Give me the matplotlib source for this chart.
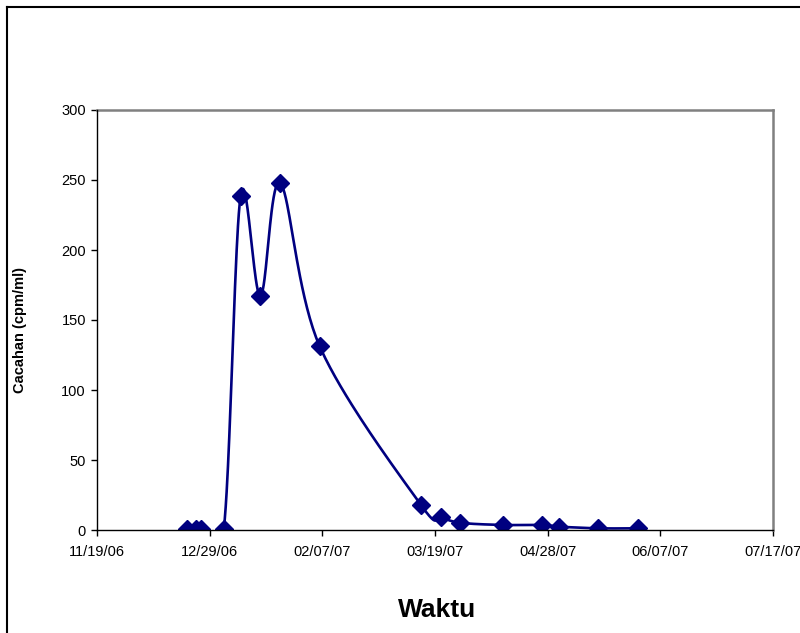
import numpy as np
import matplotlib
matplotlib.use("Agg")
import matplotlib.pyplot as plt
import matplotlib.dates as mdates
from matplotlib.lines import Line2D
from datetime import date, timedelta

plt.rcParams['font.family'] = ['Liberation Sans', 'DejaVu Sans']

# data
tanggal = ["2006-12-21", "2006-12-24", "2006-12-26", "2007-01-03", "2007-01-09",
           "2007-01-16", "2007-01-23", "2007-02-06", "2007-03-14", "2007-03-21",
           "2007-03-28", "2007-04-12", "2007-04-26", "2007-05-02", "2007-05-16",
           "2007-05-30"]
cacahan = [0.5, 0.5, 0.5, 0.5, 238.8, 167.0, 248.0, 131.5, 17.9, 9.5,
           5.2, 3.6, 3.6, 2.4, 1.2, 1.2]

x_awal = date(2006, 11, 19)
x_akhir = date(2007, 7, 17)


def smooth_line(x, y, n=40):
    # excel style smoothed line: bezier through points (catmull-rom tangents)
    x = np.asarray(x, float)
    y = np.asarray(y, float)
    px = np.concatenate([[x[0]], x, [x[-1]]])
    py = np.concatenate([[y[0]], y, [y[-1]]])
    xs, ys = [], []
    t = np.linspace(0, 1, n)
    for i in range(1, len(px) - 2):
        p0 = np.array([px[i], py[i]])
        p3 = np.array([px[i + 1], py[i + 1]])
        p1 = p0 + (np.array([px[i + 1], py[i + 1]]) - np.array([px[i - 1], py[i - 1]])) / 6
        p2 = p3 - (np.array([px[i + 2], py[i + 2]]) - np.array([px[i], py[i]])) / 6
        b = ((1 - t) ** 3)[:, None] * p0 + (3 * (1 - t) ** 2 * t)[:, None] * p1 \
            + (3 * (1 - t) * t ** 2)[:, None] * p2 + (t ** 3)[:, None] * p3
        xs.extend(b[:, 0])
        ys.extend(b[:, 1])
    return np.array(xs), np.array(ys)


xd = mdates.date2num(np.array(tanggal, dtype="datetime64[D]"))
sx, sy = smooth_line(xd, cacahan)

fig = plt.figure(figsize=(8, 6.33), dpi=100)
ax = fig.add_axes([97 / 800, 1 - 530 / 633, (773 - 97) / 800, (530 - 110) / 633])

ax.plot(sx, sy, color="#000080", lw=1.9, zorder=3)
ax.plot(xd, cacahan, linestyle="none", marker="D", markersize=9,
        color="#000080", zorder=4)

ax.set_xlim(mdates.date2num(x_awal), mdates.date2num(x_akhir))
ax.set_ylim(0, 300)
ticks = [mdates.date2num(x_awal + timedelta(days=40 * k)) for k in range(7)]
ax.set_xticks(ticks)
ax.xaxis.set_major_formatter(mdates.DateFormatter("%m/%d/%y"))
ax.set_yticks(range(0, 301, 50))
ax.tick_params(labelsize=10.5, direction="out", length=4, width=1, color="black")
ax.tick_params(axis="x", pad=7)
ax.tick_params(axis="y", pad=4)

for s in ["top", "right"]:
    ax.spines[s].set_color("#808080")
    ax.spines[s].set_linewidth(1.8)
for s in ["left", "bottom"]:
    ax.spines[s].set_color("black")
    ax.spines[s].set_linewidth(1.0)
    ax.spines[s].set_zorder(5)

fig.text(20 / 800, 1 - 330 / 633, "Cacahan (cpm/ml)", rotation=90, fontsize=10.5,
         fontweight="bold", ha="center", va="center")
fig.text(437 / 800, 1 - 610 / 633, "Waktu", fontsize=19, fontweight="bold",
         ha="center", va="center")

# chart frame (left and top edges visible)
fig.add_artist(Line2D([6.5 / 800, 6.5 / 800], [0, 1 - 6.5 / 633], color="black", lw=1.5))
fig.add_artist(Line2D([6.5 / 800, 1], [1 - 6.5 / 633, 1 - 6.5 / 633], color="black", lw=1.5))

fig.savefig("out.png", dpi=100)
